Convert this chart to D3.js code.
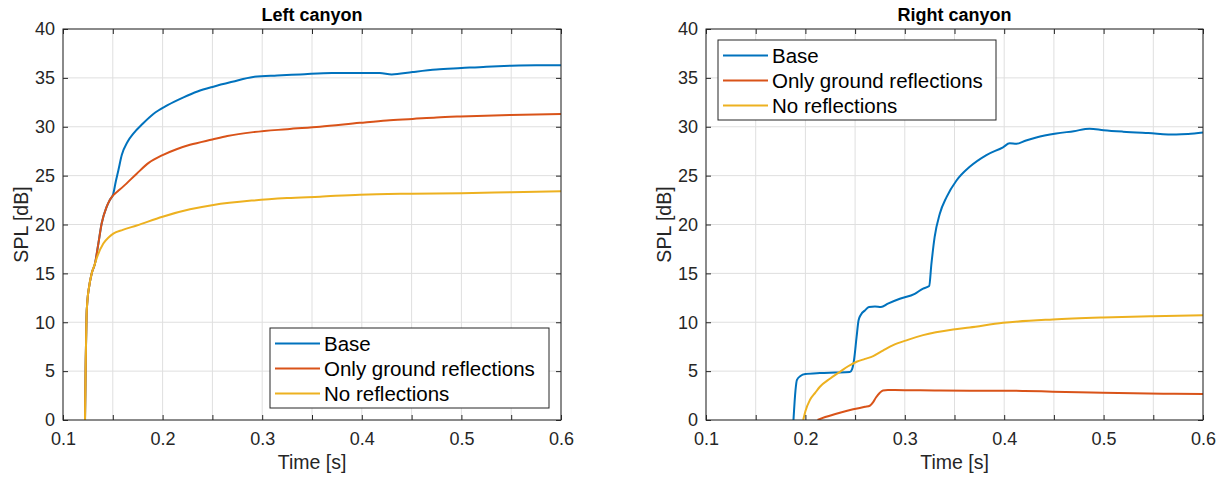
<!DOCTYPE html>
<html>
<head>
<meta charset="utf-8">
<script src="https://cdn.jsdelivr.net/npm/d3@7"></script>
<style>
  body { margin: 0; background: #fff; }
  text { font-family: "Liberation Sans", Arial, Helvetica, sans-serif; }
</style>
</head>
<body>
<div id="container"></div>
<script>
const _width = 1230;
const _height = 477;

const panelTitles = ['Left canyon', 'Right canyon'];
const seriesNames = ['Base', 'Only ground reflections', 'No reflections'];
const seriesColors = ['#0072BD', '#D95319', '#EDB120'];
const xTicks = [0.1, 0.15, 0.2, 0.25, 0.3, 0.35, 0.4, 0.45, 0.5, 0.55, 0.6];
const xLabels = [0.1, 0.2, 0.3, 0.4, 0.5, 0.6];
const yTicks = [0, 5, 10, 15, 20, 25, 30, 35, 40];

// left canyon, [time s, SPL dB]
const leftBase = [[0.1221,0],[0.1228,6],[0.1236,10.5],[0.1245,12.2],[0.1260,13.5],[0.1288,15.0],[0.1321,16.0],
  [0.1355,18.05],[0.1388,20.1],[0.1438,21.8],[0.1470,22.5],[0.1505,23.15],[0.1530,24.4],[0.1555,25.5],[0.1590,27.1],
  [0.1650,28.5],[0.1706,29.3],[0.1800,30.3],[0.1907,31.3],[0.2050,32.2],[0.2210,33.0],[0.2350,33.6],[0.2510,34.1],
  [0.2700,34.6],[0.2910,35.1],[0.3150,35.25],[0.3380,35.35],[0.3700,35.5],[0.4000,35.5],[0.4180,35.5],[0.4300,35.35],
  [0.4510,35.6],[0.4750,35.85],[0.5000,36.0],[0.5250,36.15],[0.5500,36.25],[0.5750,36.3],[0.6000,36.3]];
const leftOnly = [[0.1221,0],[0.1228,6],[0.1236,10.5],[0.1245,12.2],[0.1260,13.5],[0.1288,15.0],[0.1321,16.0],
  [0.1355,18.05],[0.1388,20.1],[0.1438,21.8],[0.1470,22.5],[0.1505,23.0],[0.1550,23.4],[0.1606,23.9],[0.1740,25.2],
  [0.1860,26.3],[0.2000,27.1],[0.2140,27.7],[0.2275,28.15],[0.2500,28.7],[0.2650,29.05],[0.2910,29.45],[0.3250,29.75],
  [0.3580,30.0],[0.3980,30.4],[0.4250,30.65],[0.4510,30.8],[0.4750,30.95],[0.4990,31.05],[0.5490,31.2],[0.6000,31.3]];
const leftNone = [[0.1221,0],[0.1228,6],[0.1236,10.5],[0.1245,12.2],[0.1260,13.5],[0.1288,15.0],[0.1321,16.0],
  [0.1340,16.6],[0.1405,18.05],[0.1460,18.7],[0.1505,19.07],[0.1600,19.45],[0.1740,19.9],[0.2000,20.8],[0.2275,21.55],
  [0.2510,22.0],[0.2900,22.45],[0.3250,22.7],[0.3580,22.85],[0.3980,23.05],[0.4500,23.15],[0.5000,23.2],
  [0.5500,23.3],[0.6000,23.4]];

// right canyon, [time s, SPL dB]
const rightBase = [[0.1880,0],[0.1900,3.0],[0.1915,4.1],[0.1950,4.5],[0.2000,4.7],[0.2146,4.8],[0.2300,4.85],
  [0.2447,4.9],[0.2470,5.2],[0.2490,6.2],[0.2515,8.5],[0.2535,10.2],[0.2560,10.8],[0.2598,11.2],[0.2640,11.55],
  [0.2700,11.6],[0.2760,11.55],[0.2830,11.9],[0.2950,12.4],[0.3100,12.9],[0.3184,13.45],[0.3245,13.7],
  [0.3268,16.0],[0.3300,18.7],[0.3352,21.1],[0.3420,22.8],[0.3520,24.5],[0.3653,25.9],[0.3821,27.1],[0.3988,27.9],
  [0.4055,28.3],[0.4122,28.25],[0.4220,28.6],[0.4323,28.9],[0.4524,29.3],[0.4700,29.55],[0.4859,29.8],
  [0.5000,29.65],[0.5194,29.5],[0.5450,29.35],[0.5730,29.2],[0.5850,29.25],[0.6000,29.4]];
const rightOnly = [[0.2122,0],[0.2200,0.3],[0.2347,0.75],[0.2480,1.09],[0.2600,1.35],[0.2648,1.46],[0.2680,1.8],
  [0.2710,2.3],[0.2749,2.79],[0.2780,3.02],[0.2830,3.06],[0.3000,3.05],[0.3300,3.02],[0.3653,3.0],[0.3955,3.0],
  [0.4200,2.97],[0.4490,2.9],[0.4750,2.85],[0.4993,2.79],[0.5300,2.73],[0.5600,2.69],[0.6000,2.66]];
const rightNone = [[0.1978,0],[0.2000,0.9],[0.2045,2.04],[0.2100,2.8],[0.2146,3.4],[0.2250,4.25],[0.2347,4.93],
  [0.2430,5.5],[0.2515,5.96],[0.2600,6.25],[0.2682,6.54],[0.2780,7.1],[0.2883,7.66],[0.3030,8.2],[0.3184,8.68],
  [0.3486,9.26],[0.3653,9.47],[0.3988,9.94],[0.4490,10.29],[0.4993,10.49],[0.5495,10.62],[0.6000,10.72]];

const panelData = [[leftBase, leftOnly, leftNone], [rightBase, rightOnly, rightNone]];

const AXIS_COLOR = '#262626';
const GRID_COLOR = '#dfdfdf';

const svg = d3.select('#container').append('svg')
    .attr('width', _width)
    .attr('height', _height);

const layout = [
    {left: 63, right: 561, top: 29, bottom: 420, legend: {x: 270, y: 328, w: 279}},
    {left: 706, right: 1203, top: 29, bottom: 420, legend: {x: 718, y: 40, w: 278}}
];

function draw_panel(i) {
    const L = layout[i];
    const x = d3.scaleLinear().domain([0.1, 0.6]).range([L.left, L.right]);
    const y = d3.scaleLinear().domain([0, 40]).range([L.bottom, L.top]);
    const g = svg.append('g');
    const pw = L.right - L.left, ph = L.bottom - L.top;

    // grid
    g.append('g').selectAll('line').data(xTicks).enter().append('line')
        .attr('x1', d => x(d)).attr('x2', d => x(d))
        .attr('y1', L.top).attr('y2', L.bottom)
        .attr('stroke', GRID_COLOR).attr('stroke-width', 1);
    g.append('g').selectAll('line').data(yTicks).enter().append('line')
        .attr('y1', d => y(d)).attr('y2', d => y(d))
        .attr('x1', L.left).attr('x2', L.right)
        .attr('stroke', GRID_COLOR).attr('stroke-width', 1);

    // lines
    const clipId = 'clip' + i;
    svg.append('clipPath').attr('id', clipId).append('rect')
        .attr('x', L.left).attr('y', L.top - 2).attr('width', pw).attr('height', ph + 2);
    const line = d3.line().x(d => x(d[0])).y(d => y(d[1])).curve(d3.curveMonotoneX);
    const lines = g.append('g').attr('clip-path', `url(#${clipId})`);
    panelData[i].forEach((s, k) => {
        lines.append('path')
            .datum(s)
            .attr('d', line)
            .attr('fill', 'none')
            .attr('stroke', seriesColors[k])
            .attr('stroke-width', 2)
            .attr('stroke-linejoin', 'round');
    });

    // axes
    const fmt = d => xLabels.some(v => Math.abs(v - d) < 1e-9) ? d3.format('.1f')(d) : '';
    const styleAxis = sel => {
        sel.select('.domain').remove();
        sel.selectAll('line').attr('stroke', AXIS_COLOR);
        sel.selectAll('text').attr('fill', AXIS_COLOR).style('font-size', '18px')
            .style('font-family', '"Liberation Sans", Arial, sans-serif');
    };
    g.append('g').attr('transform', `translate(0,${L.bottom})`)
        .call(d3.axisBottom(x).tickValues(xTicks).tickSizeInner(-5).tickSizeOuter(0).tickPadding(12).tickFormat(fmt))
        .call(styleAxis);
    g.append('g').attr('transform', `translate(0,${L.top})`)
        .call(d3.axisTop(x).tickValues(xTicks).tickSizeInner(-5).tickSizeOuter(0).tickFormat(''))
        .call(styleAxis);
    g.append('g').attr('transform', `translate(${L.left},0)`)
        .call(d3.axisLeft(y).tickValues(yTicks).tickSizeInner(-5).tickSizeOuter(0).tickPadding(8).tickFormat(d3.format('d')))
        .call(styleAxis);
    g.append('g').attr('transform', `translate(${L.right},0)`)
        .call(d3.axisRight(y).tickValues(yTicks).tickSizeInner(-5).tickSizeOuter(0).tickFormat(''))
        .call(styleAxis);

    g.append('rect')
        .attr('x', L.left).attr('y', L.top).attr('width', pw).attr('height', ph)
        .attr('fill', 'none').attr('stroke', AXIS_COLOR).attr('stroke-width', 1);

    // labels
    const cx = (L.left + L.right) / 2;
    g.append('text')
        .attr('x', cx).attr('y', 21)
        .attr('text-anchor', 'middle')
        .style('font-size', '18px').style('font-weight', 'bold')
        .attr('fill', '#000')
        .text(panelTitles[i]);
    g.append('text')
        .attr('x', cx).attr('y', 469)
        .attr('text-anchor', 'middle')
        .style('font-size', '19.5px')
        .attr('fill', AXIS_COLOR)
        .text('Time [s]');
    g.append('text')
        .attr('transform', `translate(${L.left - 35},${(L.top + L.bottom) / 2}) rotate(-90)`)
        .attr('text-anchor', 'middle')
        .style('font-size', '19.5px')
        .attr('fill', AXIS_COLOR)
        .text('SPL [dB]');

    // legend
    const lg = g.append('g').attr('transform', `translate(${L.legend.x},${L.legend.y})`);
    lg.append('rect')
        .attr('width', L.legend.w).attr('height', 80)
        .attr('fill', '#fff').attr('stroke', AXIS_COLOR).attr('stroke-width', 1);
    seriesNames.forEach((name, k) => {
        const ry = 15.5 + k * 25;
        lg.append('line')
            .attr('x1', 5).attr('x2', 50).attr('y1', ry).attr('y2', ry)
            .attr('stroke', seriesColors[k]).attr('stroke-width', 2);
        lg.append('text')
            .attr('x', 54).attr('y', ry)
            .attr('dy', '0.35em')
            .style('font-size', '20.5px')
            .attr('fill', '#000')
            .text(name);
    });
}

draw_panel(0);
draw_panel(1);
</script>
</body>
</html>
